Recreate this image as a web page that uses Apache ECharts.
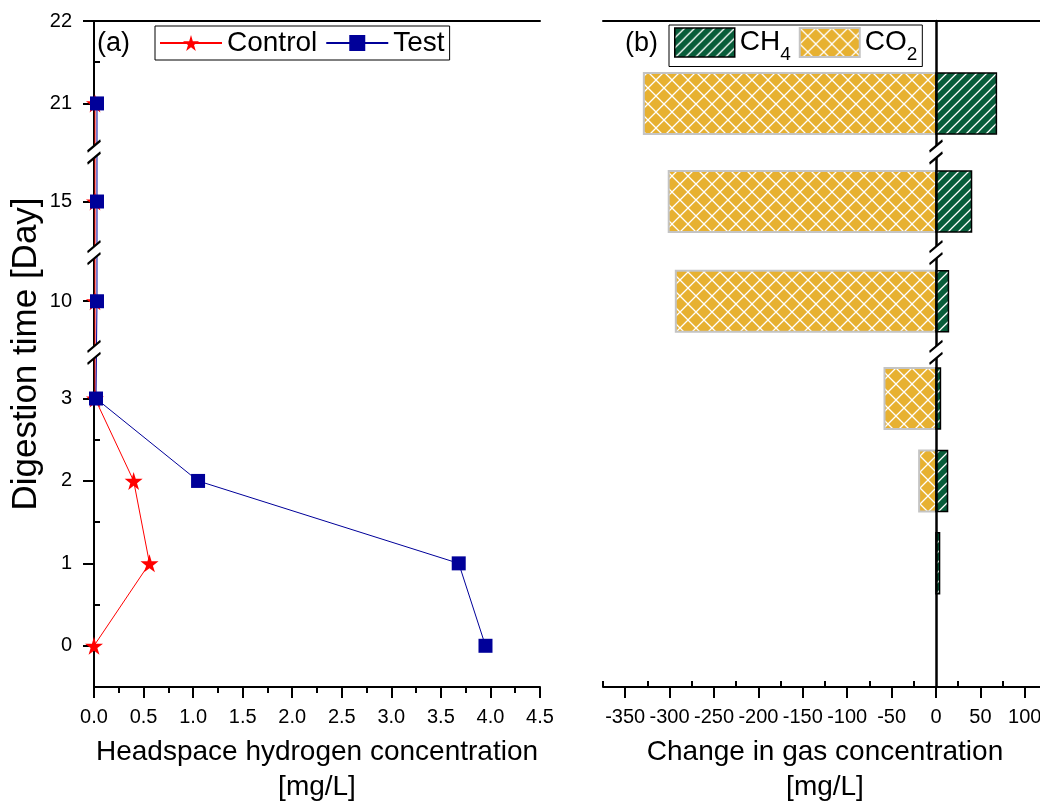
<!DOCTYPE html>
<html>
<head>
<meta charset="utf-8">
<script src="https://cdn.jsdelivr.net/npm/echarts@6.0.0/dist/echarts.min.js"></script>
<style>
  html, body { margin: 0; padding: 0; background: #fff; }
  #chart-container { width: 1040px; height: 801px; }
</style>
</head>
<body>
<div id="chart-container"></div>
<script>
  // digestion days (shared by both panels)
  var days = [0, 1, 2, 3, 10, 15, 21];
  // (a) headspace hydrogen, mg/L
  var controlH2 = [0, 0.56, 0.40, 0.01, 0.01, 0.01, 0.01];
  var testH2 = [3.95, 3.68, 1.05, 0.02, 0.03, 0.03, 0.03];
  // (b) change in gas concentration, mg/L
  var ch4Change = [0, 4, 13, 5, 14, 40, 68];
  var co2Change = [0, 0, -19, -58, -293, -301, -329];

  // tick labels
  var dayTicks = [0, 1, 2, 3, 10, 15, 21, 22];
  var dayMinorTicks = [0.5, 1.5, 2.5, 21.5];
  var gasTicks = [-350, -300, -250, -200, -150, -100, -50, 0, 50, 100];
  var gasMinorTicks = [-375, -325, -275, -225, -175, -125, -75, -25, 25, 75, 125];

  // visible pieces of the broken day axis
  var daySegments = [[-0.5, 3.56], [9.38, 10.59], [14.38, 15.6], [20.41, 22]];

  var FONT = "'Liberation Sans', Arial, sans-serif";

  function dayPos(d) {
    var off = 0;
    for (var i = 0; i < daySegments.length; i++) {
      var s = daySegments[i];
      if (d <= s[1] || i === daySegments.length - 1) return off + Math.max(d, s[0]) - s[0];
      off += s[1] - s[0];
    }
  }
  var dayMax = dayPos(22);
  var breakPos = [];
  (function () {
    var off = 0;
    for (var i = 0; i < daySegments.length - 1; i++) {
      off += daySegments[i][1] - daySegments[i][0];
      breakPos.push(off);
    }
  })();

  function dayLabel(v) {
    for (var i = 0; i < dayTicks.length; i++) {
      if (Math.abs(dayPos(dayTicks[i]) - v) < 1e-6) return String(dayTicks[i]);
    }
    return '';
  }

  function zip(xs) {
    return days.map(function (d, i) { return [xs[i], dayPos(d)]; });
  }

  // hatch fills
  function makeHatch(bg, size, cross) {
    var c = document.createElement('canvas');
    c.width = c.height = size;
    var g = c.getContext('2d');
    g.fillStyle = bg;
    g.fillRect(0, 0, size, size);
    g.strokeStyle = '#fff';
    g.lineWidth = 1.3;
    g.beginPath();
    g.moveTo(-1, size + 1); g.lineTo(size + 1, -1);
    g.moveTo(-2, 2); g.lineTo(2, -2);
    g.moveTo(size - 2, size + 2); g.lineTo(size + 2, size - 2);
    if (cross) {
      g.moveTo(-1, -1); g.lineTo(size + 1, size + 1);
      g.moveTo(-2, size - 2); g.lineTo(2, size + 2);
      g.moveTo(size - 2, -2); g.lineTo(size + 2, 2);
    }
    g.stroke();
    return { image: c, repeat: 'repeat' };
  }
  var ch4Fill = makeHatch('#085d3a', 10, false);
  var co2Fill = makeHatch('#e7b131', 16, true);
  var ch4Style = { color: ch4Fill, borderColor: '#000', borderWidth: 1.5 };
  var co2Style = { color: co2Fill, borderColor: '#c4c4c4', borderWidth: 2 };

  var BAR_H = 61;
  function barRenderer(style) {
    return function (params, api) {
      var v = api.value(0);
      if (!v) return null;
      var a = api.coord([0, api.value(1)]);
      var b = api.coord([v, api.value(1)]);
      return {
        type: 'rect',
        shape: { x: Math.min(a[0], b[0]), y: a[1] - BAR_H / 2, width: Math.abs(b[0] - a[0]), height: BAR_H },
        style: { fill: style.color, stroke: style.borderColor, lineWidth: style.borderWidth }
      };
    };
  }

  var starPath = 'path://M50,0 L61,35 L98,35 L68,57 L79,91 L50,70 L21,91 L32,57 L2,35 L39,35 Z';
  var breakBlock = 'path://M0,11 L13,0 L13,12 L0,23 Z';
  var breakSlash = 'path://M0,11 L13,0 M0,23 L13,12';

  function breakSeries(xi, yi) {
    var pts = breakPos.map(function (p) { return [0, p]; });
    return [
      { type: 'scatter', xAxisIndex: xi, yAxisIndex: yi, data: pts, symbol: breakBlock, symbolSize: [13, 23],
        itemStyle: { color: '#fff', opacity: 1 }, z: 20, silent: true, clip: false },
      { type: 'scatter', xAxisIndex: xi, yAxisIndex: yi, data: pts, symbol: breakSlash, symbolSize: [13, 23],
        itemStyle: { color: 'rgba(0,0,0,0)', borderColor: '#000', borderWidth: 2, opacity: 1 }, z: 21, silent: true, clip: false }
    ];
  }

  var axisLine = { show: true, onZero: false, lineStyle: { color: '#000', width: 2 } };
  var tickLbl = { color: '#000', fontSize: 20, fontFamily: FONT };
  var nameStyle = { color: '#000', fontSize: 28, fontFamily: FONT, lineHeight: 35 };

  var dom = document.getElementById('chart-container');
  var myChart = echarts.init(dom, null, { renderer: 'canvas' });

  var option = {
    animation: false,
    backgroundColor: '#fff',
    textStyle: { fontFamily: FONT, color: '#000' },
    title: [
      { text: '(a)', left: 97, top: 30, padding: 0, textStyle: { fontSize: 27, fontWeight: 'normal', fontFamily: FONT, color: '#000' } },
      { text: '(b)', left: 625, top: 30, padding: 0, textStyle: { fontSize: 27, fontWeight: 'normal', fontFamily: FONT, color: '#000' } }
    ],
    legend: [
      {
        data: ['Control', 'Test'],
        left: 155, top: 26,
        padding: [3, 5, 3, 4],
        itemGap: 8, itemWidth: 62, itemHeight: 20,
        borderColor: '#000', borderWidth: 1, borderRadius: 0,
        textStyle: { fontSize: 28, fontFamily: FONT, color: '#000' }
      },
      {
        data: [
          { name: 'CH4', icon: 'rect', itemStyle: ch4Style },
          { name: 'CO2', icon: 'rect', itemStyle: co2Style }
        ],
        left: 669, top: 25,
        padding: [2, 5, 2, 5],
        itemGap: 8, itemWidth: 60, itemHeight: 29,
        borderColor: '#000', borderWidth: 1, borderRadius: 0,
        formatter: function (name) { return name.replace(/(\d+)$/, '{sub|$1}'); },
        textStyle: {
          fontSize: 28, fontFamily: FONT, color: '#000',
          rich: { sub: { fontSize: 19, fontFamily: FONT, color: '#000', lineHeight: 44, verticalAlign: 'bottom' } }
        }
      }
    ],
    grid: [
      { left: 94, top: 21, width: 446, bottom: 114, outerBoundsMode: 'none', containLabel: false },
      { left: 603, top: 21, right: -7, bottom: 114, outerBoundsMode: 'none', containLabel: false }
    ],
    xAxis: [
      {
        gridIndex: 0, type: 'value', min: 0, max: 4.5, interval: 0.5,
        axisLine: axisLine,
        axisTick: { show: true, length: 11, lineStyle: { color: '#000', width: 2 } },
        minorTick: { show: true, splitNumber: 2, length: 6, lineStyle: { color: '#000', width: 2 } },
        splitLine: { show: false },
        axisLabel: Object.assign({ margin: 20, formatter: function (v) { return v.toFixed(1); } }, tickLbl),
        name: 'Headspace hydrogen concentration\n[mg/L]', nameLocation: 'middle', nameGap: 48, nameTextStyle: nameStyle
      },
      {
        gridIndex: 0, type: 'value', min: 0, max: 4.5, position: 'top',
        axisLine: axisLine, axisTick: { show: false }, axisLabel: { show: false }, splitLine: { show: false }
      },
      {
        gridIndex: 1, type: 'value', min: -375, max: 125,
        axisLine: axisLine,
        axisTick: { show: true, length: 11, customValues: gasTicks, lineStyle: { color: '#000', width: 2 } },
        splitLine: { show: false },
        axisLabel: Object.assign({ margin: 20, customValues: gasTicks }, tickLbl),
        name: 'Change in gas concentration\n[mg/L]', nameLocation: 'middle', nameGap: 48, nameTextStyle: nameStyle
      },
      {
        gridIndex: 1, type: 'value', min: -375, max: 125,
        axisLine: { show: false },
        axisTick: { show: true, length: 6, customValues: gasMinorTicks, lineStyle: { color: '#000', width: 2 } },
        axisLabel: { show: false }, splitLine: { show: false }
      },
      {
        gridIndex: 1, type: 'value', min: -375, max: 125, position: 'top',
        axisLine: axisLine, axisTick: { show: false }, axisLabel: { show: false }, splitLine: { show: false }
      }
    ],
    yAxis: [
      {
        gridIndex: 0, type: 'value', min: 0, max: dayMax,
        axisLine: axisLine,
        axisTick: { show: true, length: 11, customValues: dayTicks.map(dayPos), lineStyle: { color: '#000', width: 2 } },
        axisLabel: Object.assign({ margin: 22, customValues: dayTicks.map(dayPos), formatter: dayLabel }, tickLbl),
        splitLine: { show: false },
        name: 'Digestion time [Day]', nameLocation: 'middle', nameGap: 50,
        nameTextStyle: { color: '#000', fontSize: 35, fontFamily: FONT }
      },
      {
        gridIndex: 0, type: 'value', min: 0, max: dayMax,
        axisLine: { show: false },
        axisTick: { show: true, length: 6, customValues: dayMinorTicks.map(dayPos), lineStyle: { color: '#000', width: 2 } },
        axisLabel: { show: false }, splitLine: { show: false }
      },
      {
        gridIndex: 1, type: 'value', min: 0, max: dayMax, z: 10,
        axisLine: { show: true, onZero: true, onZeroAxisIndex: 2, lineStyle: { color: '#000', width: 2.5 } },
        axisTick: { show: false }, axisLabel: { show: false }, splitLine: { show: false }
      }
    ],
    series: [
      {
        name: 'Control', type: 'line', xAxisIndex: 0, yAxisIndex: 0, data: zip(controlH2),
        symbol: starPath, symbolSize: 18, clip: false,
        lineStyle: { color: '#ff0000', width: 1 }, itemStyle: { color: '#ff0000' }
      },
      {
        name: 'Test', type: 'line', xAxisIndex: 0, yAxisIndex: 0, data: zip(testH2),
        symbol: 'rect', symbolSize: 14, clip: false,
        lineStyle: { color: '#000099', width: 1 }, itemStyle: { color: '#000099' }
      },
      {
        name: 'CO2', type: 'custom', xAxisIndex: 2, yAxisIndex: 2, data: zip(co2Change),
        renderItem: barRenderer(co2Style), itemStyle: co2Style, clip: false
      },
      {
        name: 'CH4', type: 'custom', xAxisIndex: 2, yAxisIndex: 2, data: zip(ch4Change),
        renderItem: barRenderer(ch4Style), itemStyle: ch4Style, clip: false
      }
    ].concat(breakSeries(0, 0), breakSeries(2, 2))
  };

  myChart.setOption(option);
</script>
</body>
</html>
